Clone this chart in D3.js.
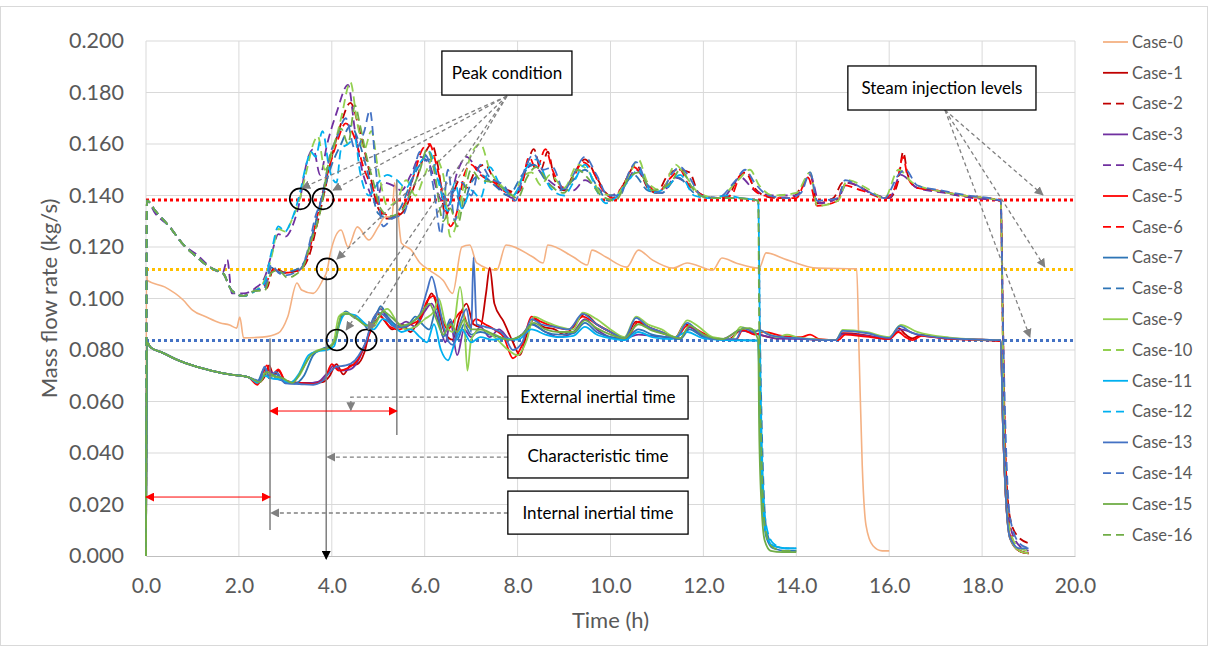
<!DOCTYPE html>
<html>
<head>
<meta charset="utf-8">
<script src="https://d3js.org/d3.v7.min.js"></script>
<style>
  body { margin: 0; background: #fff; }
  text { font-family: Lato, "Open Sans", sans-serif; }
</style>
</head>
<body>
<script>
// ---- data (time in h, mass flow rate in kg/s) ----
const xTicks = [0, 2, 4, 6, 8, 10, 12, 14, 16, 18, 20];
const yTicks = [0, 0.02, 0.04, 0.06, 0.08, 0.1, 0.12, 0.14, 0.16, 0.18, 0.2];

// the three steam injection levels
const levels = [0.1383, 0.1113, 0.0837];

// both groups start on the same curve before they split
const highStart = [[0,0],[0.02,0.138],[0.2,0.134],[0.5,0.128],[0.8,0.121],[1.1,0.116],[1.3,0.113],[1.5,0.111],[1.65,0.110],[1.85,0.103],[2.1,0.101],[2.35,0.103]];
const lowStart = [[0,0],[0.02,0.083],[0.1,0.081],[0.35,0.079],[0.7,0.076],[1.0,0.074],[1.4,0.072],[1.8,0.0705],[2.2,0.0695]];

const case0 = [[0,0],[0.01,0.111],[0.03,0.107],[0.4,0.1045],[0.8,0.0994],[1.0,0.0955],[1.3,0.0928],[1.6,0.0905],[1.8,0.0897],[1.95,0.0885],[2.02,0.0928],[2.1,0.0847],[2.5,0.085],[2.85,0.0866],[3.05,0.0928],[3.25,0.106],[3.35,0.1033],[3.6,0.102],[3.8,0.107],[3.9,0.111],[3.97,0.1177],[4.2,0.1266],[4.35,0.12],[4.55,0.1278],[4.8,0.1227],[5.0,0.1278],[5.15,0.1317],[5.3,0.1317],[5.35,0.1449],[5.5,0.1215],[5.7,0.119],[5.9,0.1138],[6.1,0.111],[6.4,0.107],[6.6,0.102],[6.8,0.12],[6.97,0.1208],[7.12,0.1138],[7.55,0.111],[7.75,0.1208],[8.33,0.1161],[8.55,0.1138],[8.65,0.1208],[9.2,0.1161],[9.5,0.113],[9.6,0.1188],[9.9,0.1161],[10.35,0.1122],[10.6,0.1188],[10.9,0.115],[11.35,0.1118],[11.65,0.1138],[12.2,0.111],[12.4,0.1157],[12.7,0.1138],[13.2,0.1118],[13.35,0.1177],[13.8,0.115],[14.45,0.1118],[15.3,0.1115],[15.35,0.08],[15.42,0.035],[15.5,0.012],[15.65,0.004],[15.85,0.002],[16.0,0.002]];

const case1 = lowStart.concat([[2.4,0.0672],[2.55,0.0695],[2.65,0.074],[2.75,0.070],[2.85,0.072],[3.0,0.068],[3.3,0.0672],[3.6,0.0672],[3.8,0.0675],[3.95,0.0698],[4.1,0.0745],[4.25,0.0705],[4.4,0.074],[4.55,0.0745],[4.7,0.079],[4.85,0.090],[5.0,0.094],[5.15,0.091],[5.3,0.088],[5.5,0.090],[5.7,0.087],[5.85,0.091],[6.0,0.096],[6.15,0.102],[6.3,0.095],[6.45,0.086],[6.6,0.084],[6.75,0.093],[6.9,0.098],[7.05,0.090],[7.2,0.089],[7.32,0.102],[7.4,0.112],[7.5,0.098],[7.7,0.091],[7.9,0.083],[8.05,0.078],[8.2,0.086],[8.35,0.092],[8.55,0.089],[8.8,0.088],[9.0,0.086],[9.2,0.089],[9.45,0.094],[9.7,0.090],[10.0,0.087],[10.3,0.084],[10.55,0.091],[10.8,0.089],[11.1,0.087],[11.4,0.085],[11.6,0.090],[11.9,0.087],[12.2,0.0845],[12.55,0.0842],[12.8,0.0875],[13.0,0.087],[13.3,0.0855],[13.6,0.0845],[13.9,0.0848],[14.1,0.0845],[14.4,0.084],[14.85,0.0838],[15.0,0.0865],[15.4,0.086],[15.7,0.085],[16.0,0.0842],[16.2,0.0885],[16.35,0.086],[16.5,0.0845],[16.7,0.086],[17.2,0.0845],[17.8,0.084],[18.4,0.0835],[18.45,0.05],[18.52,0.02],[18.6,0.008],[18.8,0.002],[19.0,0.001]]);

const case2 = highStart.concat([[2.6,0.104],[2.75,0.112],[3.0,0.110],[3.3,0.111],[3.5,0.116],[3.7,0.130],[3.85,0.142],[4.0,0.155],[4.2,0.168],[4.4,0.176],[4.6,0.165],[4.8,0.150],[5.0,0.135],[5.2,0.131],[5.5,0.133],[5.8,0.145],[6.0,0.156],[6.15,0.160],[6.3,0.150],[6.45,0.132],[6.6,0.140],[6.75,0.146],[6.9,0.143],[7.1,0.150],[7.3,0.152],[7.5,0.146],[7.8,0.142],[8.0,0.141],[8.2,0.152],[8.35,0.158],[8.5,0.150],[8.65,0.157],[8.8,0.146],[9.0,0.142],[9.2,0.148],[9.45,0.154],[9.7,0.147],[9.9,0.141],[10.1,0.139],[10.3,0.145],[10.55,0.152],[10.8,0.143],[11.0,0.141],[11.2,0.147],[11.45,0.150],[11.7,0.149],[11.9,0.141],[12.2,0.139],[12.5,0.139],[12.75,0.147],[12.9,0.149],[13.1,0.143],[13.3,0.140],[13.6,0.139],[13.9,0.139],[14.1,0.143],[14.3,0.148],[14.45,0.137],[14.8,0.139],[15.0,0.145],[15.3,0.144],[15.6,0.141],[16.0,0.139],[16.2,0.146],[16.3,0.157],[16.4,0.148],[16.6,0.143],[17.0,0.142],[17.5,0.140],[18.0,0.139],[18.4,0.138],[18.45,0.09],[18.5,0.04],[18.6,0.015],[18.75,0.008],[19.0,0.005]]);

const case3 = lowStart.concat([[2.4,0.0678],[2.5,0.070],[2.65,0.0722],[2.8,0.069],[3.1,0.0675],[3.4,0.067],[3.7,0.0676],[3.9,0.071],[4.05,0.074],[4.2,0.072],[4.4,0.0725],[4.6,0.077],[4.75,0.0838],[4.9,0.092],[5.05,0.096],[5.2,0.092],[5.4,0.089],[5.6,0.091],[5.8,0.089],[6.0,0.095],[6.15,0.098],[6.3,0.091],[6.45,0.083],[6.55,0.091],[6.7,0.078],[6.85,0.088],[7.0,0.085],[7.2,0.089],[7.4,0.085],[7.6,0.088],[7.85,0.084],[8.1,0.086],[8.3,0.090],[8.6,0.087],[8.9,0.085],[9.2,0.087],[9.45,0.092],[9.7,0.088],[10.0,0.085],[10.3,0.0845],[10.6,0.086],[10.9,0.0855],[11.2,0.085],[11.5,0.0845],[11.7,0.0888],[12.0,0.0855],[12.4,0.0842],[12.8,0.0875],[13.2,0.086],[13.6,0.0845],[14.2,0.0842],[14.85,0.0838],[15.0,0.0862],[15.5,0.0855],[16.0,0.0843],[16.25,0.088],[16.6,0.086],[17.3,0.0845],[18.4,0.0837],[18.45,0.05],[18.52,0.02],[18.62,0.006],[18.8,0.002],[19.0,0.001]]);

const case4 = [[0,0],[0.02,0.138],[0.2,0.133],[0.5,0.128],[0.8,0.121],[1.1,0.117],[1.4,0.112],[1.65,0.110],[1.75,0.115],[1.85,0.102],[2.1,0.102],[2.35,0.104],[2.55,0.108],[2.7,0.117],[2.85,0.125],[3.0,0.124],[3.15,0.128],[3.3,0.137],[3.45,0.152],[3.6,0.158],[3.75,0.148],[3.9,0.160],[4.1,0.172],[4.35,0.183],[4.5,0.165],[4.65,0.150],[4.8,0.142],[4.95,0.137],[5.1,0.145],[5.3,0.144],[5.5,0.142],[5.7,0.148],[5.9,0.155],[6.1,0.152],[6.3,0.140],[6.5,0.136],[6.7,0.149],[6.9,0.155],[7.1,0.151],[7.3,0.147],[7.6,0.143],[7.9,0.139],[8.1,0.146],[8.3,0.152],[8.6,0.147],[8.9,0.143],[9.2,0.142],[9.45,0.146],[9.7,0.143],[10.0,0.140],[10.3,0.144],[10.55,0.150],[10.8,0.144],[11.1,0.141],[11.4,0.147],[11.7,0.144],[12.0,0.140],[12.4,0.139],[12.8,0.147],[13.1,0.142],[13.5,0.140],[14.0,0.140],[14.3,0.148],[14.5,0.137],[14.9,0.139],[15.1,0.145],[15.6,0.141],[16.0,0.139],[16.25,0.148],[16.6,0.143],[17.2,0.141],[17.8,0.139],[18.4,0.138],[18.45,0.085],[18.5,0.035],[18.6,0.012],[18.8,0.004],[19.0,0.002]];

const case5 = lowStart.concat([[2.4,0.0665],[2.5,0.070],[2.6,0.074],[2.7,0.070],[2.85,0.0725],[3.0,0.068],[3.3,0.0672],[3.6,0.0668],[3.85,0.069],[4.0,0.0745],[4.15,0.072],[4.35,0.073],[4.55,0.076],[4.75,0.0835],[4.9,0.090],[5.05,0.093],[5.25,0.089],[5.45,0.088],[5.7,0.090],[5.9,0.092],[6.05,0.099],[6.2,0.101],[6.35,0.093],[6.5,0.088],[6.65,0.092],[6.8,0.095],[6.95,0.089],[7.1,0.092],[7.3,0.090],[7.5,0.088],[7.7,0.085],[7.9,0.0768],[8.1,0.082],[8.3,0.093],[8.5,0.091],[8.8,0.089],[9.1,0.088],[9.4,0.093],[9.7,0.090],[10.0,0.087],[10.35,0.0845],[10.6,0.091],[10.9,0.088],[11.2,0.086],[11.4,0.0845],[11.65,0.0895],[12.0,0.0865],[12.3,0.0842],[12.7,0.084],[12.85,0.0878],[13.1,0.086],[13.3,0.087],[13.7,0.0855],[14.1,0.085],[14.3,0.086],[14.5,0.0842],[14.9,0.0838],[15.05,0.086],[15.5,0.0852],[16.0,0.0843],[16.2,0.087],[16.35,0.085],[16.5,0.0838],[16.7,0.0855],[17.3,0.0843],[18.0,0.084],[18.4,0.0835],[18.45,0.05],[18.52,0.02],[18.6,0.007],[18.8,0.002],[19.0,0.001]]);

const case6 = highStart.concat([[2.55,0.105],[2.75,0.111],[3.0,0.110],[3.3,0.111],[3.5,0.118],[3.7,0.133],[3.9,0.148],[4.1,0.160],[4.3,0.168],[4.5,0.162],[4.7,0.150],[4.9,0.142],[5.1,0.133],[5.35,0.132],[5.6,0.138],[5.8,0.150],[5.95,0.158],[6.1,0.160],[6.25,0.152],[6.4,0.140],[6.55,0.128],[6.7,0.134],[6.85,0.148],[7.0,0.152],[7.2,0.148],[7.5,0.145],[7.8,0.141],[8.05,0.142],[8.25,0.155],[8.4,0.150],[8.6,0.158],[8.75,0.150],[9.0,0.143],[9.2,0.147],[9.4,0.153],[9.6,0.150],[9.8,0.143],[10.05,0.139],[10.3,0.145],[10.5,0.151],[10.75,0.146],[11.0,0.141],[11.3,0.147],[11.5,0.150],[11.65,0.145],[11.9,0.141],[12.2,0.139],[12.6,0.140],[12.8,0.148],[12.95,0.149],[13.1,0.142],[13.3,0.140],[13.7,0.139],[14.0,0.139],[14.25,0.147],[14.45,0.136],[14.9,0.138],[15.0,0.144],[15.4,0.142],[15.9,0.139],[16.15,0.144],[16.3,0.155],[16.4,0.147],[16.6,0.143],[17.0,0.142],[17.6,0.140],[18.4,0.138],[18.45,0.08],[18.52,0.03],[18.6,0.01],[18.8,0.002],[19.0,0.001]]);

const case7 = lowStart.concat([[2.4,0.0678],[2.55,0.073],[2.65,0.069],[2.8,0.0705],[3.0,0.0672],[3.2,0.067],[3.4,0.070],[3.6,0.078],[3.8,0.0805],[3.95,0.0815],[4.05,0.083],[4.15,0.090],[4.3,0.095],[4.45,0.093],[4.65,0.091],[4.8,0.088],[4.95,0.093],[5.05,0.097],[5.2,0.093],[5.4,0.0895],[5.6,0.089],[5.8,0.093],[5.95,0.090],[6.1,0.088],[6.25,0.096],[6.4,0.085],[6.55,0.092],[6.7,0.084],[6.85,0.090],[7.0,0.086],[7.2,0.087],[7.4,0.086],[7.6,0.085],[7.85,0.084],[8.1,0.086],[8.3,0.090],[8.6,0.087],[8.9,0.086],[9.2,0.0865],[9.45,0.0905],[9.7,0.087],[10.0,0.085],[10.3,0.084],[10.6,0.088],[10.9,0.086],[11.2,0.085],[11.5,0.0842],[11.7,0.088],[12.0,0.085],[12.4,0.084],[12.75,0.0839],[13.18,0.0837],[13.22,0.05],[13.28,0.02],[13.36,0.007],[13.5,0.003],[13.8,0.002],[14.0,0.002]]);

const case8 = highStart.concat([[2.55,0.104],[2.7,0.112],[2.9,0.110],[3.2,0.111],[3.4,0.114],[3.6,0.126],[3.8,0.140],[4.0,0.152],[4.2,0.160],[4.4,0.167],[4.6,0.160],[4.8,0.147],[5.0,0.133],[5.25,0.131],[5.5,0.136],[5.7,0.145],[5.9,0.152],[6.1,0.154],[6.3,0.146],[6.5,0.138],[6.65,0.142],[6.8,0.135],[7.0,0.145],[7.2,0.148],[7.5,0.144],[7.8,0.140],[8.1,0.148],[8.35,0.152],[8.6,0.146],[8.9,0.142],[9.2,0.146],[9.45,0.150],[9.7,0.144],[9.95,0.138],[10.2,0.141],[10.5,0.148],[10.8,0.142],[11.1,0.141],[11.45,0.147],[11.8,0.141],[12.2,0.139],[12.7,0.139],[13.18,0.138],[13.22,0.085],[13.28,0.035],[13.36,0.01],[13.5,0.004],[13.8,0.003],[14.0,0.003]]);

const case9 = lowStart.concat([[2.45,0.0678],[2.55,0.071],[2.7,0.070],[2.9,0.069],[3.1,0.0675],[3.3,0.070],[3.5,0.077],[3.7,0.080],[3.9,0.0805],[4.05,0.084],[4.15,0.093],[4.3,0.0945],[4.5,0.0925],[4.7,0.090],[4.9,0.089],[5.05,0.094],[5.2,0.096],[5.4,0.091],[5.6,0.088],[5.8,0.089],[6.0,0.092],[6.2,0.095],[6.3,0.100],[6.45,0.090],[6.6,0.087],[6.76,0.1045],[6.85,0.092],[6.92,0.072],[7.0,0.084],[7.2,0.088],[7.5,0.085],[7.8,0.080],[8.0,0.078],[8.2,0.084],[8.35,0.093],[8.6,0.091],[8.9,0.089],[9.2,0.088],[9.4,0.0945],[9.7,0.092],[10.0,0.088],[10.3,0.085],[10.55,0.093],[10.8,0.090],[11.1,0.088],[11.4,0.085],[11.65,0.0915],[11.9,0.089],[12.2,0.085],[12.6,0.0842],[12.8,0.089],[13.0,0.088],[13.3,0.087],[13.6,0.085],[13.8,0.086],[14.0,0.085],[14.4,0.0842],[14.85,0.0838],[15.0,0.0878],[15.5,0.087],[16.0,0.085],[16.25,0.0897],[16.6,0.087],[17.3,0.0848],[18.0,0.084],[18.4,0.0838],[18.45,0.05],[18.52,0.02],[18.6,0.007],[18.8,0.002],[19.0,0.001]]);

const case10 = highStart.concat([[2.55,0.107],[2.7,0.116],[2.85,0.127],[3.0,0.126],[3.15,0.131],[3.3,0.138],[3.45,0.149],[3.6,0.160],[3.7,0.163],[3.85,0.150],[4.0,0.156],[4.2,0.170],[4.4,0.184],[4.55,0.168],[4.7,0.158],[4.85,0.165],[5.0,0.150],[5.2,0.136],[5.4,0.138],[5.6,0.146],[5.8,0.140],[6.0,0.148],[6.2,0.155],[6.4,0.148],[6.55,0.124],[6.7,0.130],[6.85,0.145],[7.0,0.156],[7.2,0.160],[7.4,0.150],[7.7,0.143],[7.9,0.140],[8.1,0.147],[8.3,0.149],[8.5,0.144],[8.7,0.148],[9.0,0.143],[9.3,0.152],[9.5,0.150],[9.8,0.141],[10.1,0.140],[10.4,0.148],[10.6,0.154],[10.8,0.145],[11.1,0.142],[11.4,0.152],[11.6,0.148],[11.9,0.141],[12.3,0.139],[12.75,0.146],[13.0,0.150],[13.2,0.144],[13.5,0.140],[14.0,0.141],[14.3,0.149],[14.45,0.136],[14.9,0.138],[15.1,0.146],[15.5,0.143],[15.9,0.139],[16.2,0.150],[16.5,0.145],[17.0,0.142],[17.6,0.140],[18.4,0.138],[18.45,0.08],[18.5,0.03],[18.6,0.01],[18.8,0.003],[19.0,0.002]]);

const case11 = lowStart.concat([[2.4,0.0672],[2.55,0.070],[2.7,0.069],[2.9,0.0685],[3.1,0.0672],[3.3,0.071],[3.5,0.078],[3.7,0.0795],[3.9,0.080],[4.05,0.0815],[4.15,0.089],[4.3,0.094],[4.5,0.0935],[4.7,0.0905],[4.9,0.088],[5.1,0.092],[5.3,0.090],[5.5,0.087],[5.7,0.088],[5.9,0.085],[6.05,0.083],[6.2,0.090],[6.35,0.080],[6.5,0.076],[6.65,0.083],[6.8,0.088],[7.0,0.083],[7.2,0.085],[7.45,0.084],[7.7,0.0845],[8.0,0.084],[8.3,0.088],[8.6,0.086],[8.9,0.085],[9.2,0.0855],[9.45,0.089],[9.7,0.086],[10.0,0.0845],[10.3,0.0838],[10.6,0.087],[10.9,0.085],[11.3,0.0842],[11.65,0.087],[12.0,0.0845],[12.5,0.0838],[13.18,0.0836],[13.22,0.05],[13.28,0.02],[13.36,0.008],[13.5,0.004],[13.8,0.003],[14.0,0.003]]);

const case12 = highStart.concat([[2.55,0.106],[2.7,0.118],[2.85,0.128],[3.0,0.126],[3.1,0.129],[3.3,0.140],[3.45,0.152],[3.55,0.157],[3.65,0.155],[3.8,0.165],[3.95,0.150],[4.1,0.145],[4.2,0.158],[4.35,0.160],[4.5,0.162],[4.6,0.150],[4.8,0.140],[5.0,0.145],[5.2,0.148],[5.4,0.146],[5.6,0.143],[5.8,0.150],[6.0,0.155],[6.1,0.157],[6.3,0.145],[6.5,0.134],[6.65,0.145],[6.8,0.135],[7.0,0.142],[7.2,0.139],[7.4,0.151],[7.6,0.145],[7.9,0.140],[8.2,0.151],[8.4,0.154],[8.7,0.143],[9.0,0.140],[9.2,0.145],[9.45,0.152],[9.7,0.142],[9.9,0.137],[10.1,0.139],[10.4,0.146],[10.6,0.150],[10.9,0.141],[11.2,0.143],[11.5,0.148],[11.8,0.140],[12.1,0.139],[12.5,0.140],[12.8,0.139],[13.18,0.138],[13.22,0.08],[13.27,0.035],[13.35,0.012],[13.5,0.005],[13.75,0.003],[14.0,0.003]]);

const case13 = lowStart.concat([[2.45,0.068],[2.55,0.0735],[2.65,0.070],[2.8,0.0715],[3.0,0.067],[3.3,0.0668],[3.6,0.0665],[3.8,0.068],[3.95,0.0712],[4.1,0.0735],[4.3,0.074],[4.5,0.076],[4.65,0.080],[4.75,0.084],[4.85,0.0905],[5.0,0.0945],[5.15,0.093],[5.3,0.0895],[5.5,0.0888],[5.7,0.0905],[5.9,0.094],[6.05,0.103],[6.15,0.1085],[6.3,0.098],[6.45,0.086],[6.6,0.082],[6.75,0.090],[6.9,0.096],[7.0,0.087],[7.05,0.116],[7.12,0.090],[7.3,0.089],[7.5,0.088],[7.7,0.086],[7.9,0.080],[8.1,0.083],[8.3,0.092],[8.5,0.090],[8.8,0.089],[9.1,0.088],[9.4,0.094],[9.7,0.090],[10.0,0.087],[10.3,0.0845],[10.55,0.0925],[10.8,0.089],[11.1,0.087],[11.4,0.0845],[11.65,0.0905],[11.9,0.087],[12.2,0.0842],[12.7,0.0842],[12.85,0.0885],[13.1,0.087],[13.2,0.0878],[13.4,0.086],[13.7,0.085],[14.1,0.0845],[14.4,0.084],[14.85,0.0838],[15.0,0.0874],[15.5,0.0866],[16.0,0.0847],[16.23,0.0893],[16.5,0.0866],[17.3,0.0845],[18.0,0.084],[18.4,0.0838],[18.45,0.05],[18.52,0.02],[18.6,0.007],[18.8,0.003],[19.0,0.003]]);

const case14 = highStart.concat([[2.55,0.104],[2.7,0.113],[2.85,0.110],[3.0,0.109],[3.2,0.110],[3.35,0.112],[3.5,0.120],[3.65,0.132],[3.75,0.137],[3.85,0.145],[3.95,0.155],[4.1,0.162],[4.3,0.170],[4.5,0.158],[4.7,0.165],[4.82,0.173],[4.95,0.150],[5.1,0.128],[5.3,0.131],[5.55,0.133],[5.75,0.148],[5.9,0.157],[6.05,0.155],[6.2,0.142],[6.35,0.125],[6.5,0.150],[6.65,0.130],[6.8,0.145],[7.0,0.140],[7.2,0.152],[7.4,0.147],[7.7,0.144],[7.95,0.138],[8.15,0.150],[8.35,0.156],[8.55,0.150],[8.75,0.151],[9.0,0.142],[9.2,0.148],[9.45,0.155],[9.7,0.148],[9.95,0.140],[10.2,0.140],[10.4,0.149],[10.55,0.153],[10.8,0.144],[11.1,0.141],[11.3,0.148],[11.5,0.151],[11.7,0.147],[11.95,0.140],[12.3,0.139],[12.7,0.146],[12.9,0.150],[13.1,0.145],[13.4,0.140],[13.8,0.139],[14.1,0.141],[14.3,0.149],[14.45,0.138],[14.9,0.139],[15.05,0.146],[15.4,0.143],[15.9,0.139],[16.2,0.148],[16.35,0.150],[16.6,0.144],[17.1,0.142],[17.7,0.140],[18.4,0.138],[18.45,0.09],[18.52,0.04],[18.6,0.015],[18.8,0.005],[19.0,0.003]]);

const case15 = lowStart.concat([[2.45,0.0675],[2.6,0.0715],[2.75,0.070],[2.95,0.069],[3.15,0.0672],[3.35,0.072],[3.55,0.078],[3.75,0.080],[3.95,0.081],[4.1,0.085],[4.2,0.0935],[4.35,0.094],[4.55,0.092],[4.75,0.0895],[4.95,0.091],[5.1,0.095],[5.3,0.0925],[5.5,0.0895],[5.7,0.0905],[5.9,0.0935],[6.1,0.098],[6.25,0.092],[6.4,0.086],[6.55,0.090],[6.7,0.087],[6.85,0.092],[7.0,0.088],[7.2,0.088],[7.5,0.086],[7.8,0.084],[8.1,0.086],[8.35,0.0905],[8.6,0.088],[8.9,0.087],[9.2,0.087],[9.45,0.0915],[9.7,0.0885],[10.0,0.086],[10.3,0.0845],[10.6,0.090],[10.9,0.0875],[11.2,0.086],[11.5,0.0845],[11.7,0.0895],[12.0,0.086],[12.4,0.0842],[12.8,0.088],[13.0,0.0885],[13.18,0.084],[13.2,0.05],[13.25,0.02],[13.32,0.006],[13.45,0.002],[13.7,0.0015],[14.0,0.0015]]);

const case16 = highStart.concat([[2.55,0.103],[2.7,0.110],[2.85,0.111],[3.05,0.108],[3.2,0.109],[3.4,0.113],[3.55,0.122],[3.7,0.130],[3.8,0.138],[3.9,0.150],[4.05,0.160],[4.2,0.166],[4.35,0.160],[4.5,0.175],[4.6,0.168],[4.75,0.155],[4.9,0.145],[5.05,0.135],[5.25,0.132],[5.5,0.134],[5.7,0.141],[5.9,0.150],[6.05,0.158],[6.2,0.150],[6.4,0.130],[6.55,0.135],[6.7,0.128],[6.85,0.140],[7.0,0.150],[7.2,0.146],[7.5,0.145],[7.8,0.141],[8.0,0.139],[8.2,0.147],[8.4,0.151],[8.7,0.144],[9.0,0.141],[9.3,0.150],[9.5,0.147],[9.8,0.140],[10.1,0.138],[10.4,0.147],[10.6,0.149],[10.9,0.142],[11.3,0.145],[11.5,0.150],[11.8,0.142],[12.1,0.139],[12.6,0.139],[13.18,0.138],[13.2,0.09],[13.25,0.04],[13.32,0.012],[13.45,0.004],[13.7,0.002],[14.0,0.002]]);

const caseNames = ["Case-0","Case-1","Case-2","Case-3","Case-4","Case-5","Case-6","Case-7","Case-8","Case-9","Case-10","Case-11","Case-12","Case-13","Case-14","Case-15","Case-16"];
const caseValues = [case0, case1, case2, case3, case4, case5, case6, case7, case8, case9, case10, case11, case12, case13, case14, case15, case16];
const caseColors = ["#F4B183","#C00000","#C00000","#7030A0","#7030A0","#FF0000","#FF0000","#2E75B6","#2E75B6","#92D050","#92D050","#00B0F0","#00B0F0","#4472C4","#4472C4","#70AD47","#70AD47"];
const caseDashed = [false,false,true,false,true,false,true,false,true,false,true,false,true,false,true,false,true];

// annotation positions in data units
const circles = [[3.32,0.1387],[3.81,0.1387],[3.90,0.1115],[4.11,0.0839],[4.74,0.0839]];
const peakFrom = [7.77, 0.1786];
const peakTargets = [[3.36,0.1429],[4.03,0.1421],[4.11,0.1153],[4.31,0.0878],[4.78,0.0878]];
const steamFrom = [17.2, 0.1732];
const steamTargets = [[19.31,0.1402],[19.35,0.1122],[19.03,0.0850]];
const vLines = [[2.67,0.0845,0.0101],[5.40,0.1460,0.0470]];
const charLine = [3.88, 0.1085, 0.0];
const redSpans = [[0,2.67,0.0229],[2.67,5.40,0.0563]];

// ---- chart ----
const canvasW = 1208, canvasH = 646;
const x = d3.scaleLinear().domain([0, 20]).range([146, 1075]);
const y = d3.scaleLinear().domain([0, 0.2]).range([556, 41]);

const svg = d3.select("body").append("svg")
  .attr("width", canvasW)
  .attr("height", canvasH);

const defs = svg.append("defs");
function marker(id, color, size) {
  defs.append("marker")
    .attr("id", id)
    .attr("viewBox", "0 0 10 10")
    .attr("refX", 9).attr("refY", 5)
    .attr("markerWidth", size).attr("markerHeight", size)
    .attr("markerUnits", "userSpaceOnUse")
    .attr("orient", "auto-start-reverse")
    .append("path")
    .attr("d", "M0,0 L10,5 L0,10 z")
    .attr("fill", color);
}
marker("arrGray", "#808080", 9);
marker("arrRed", "#FF0000", 9);
marker("arrBlack", "#000", 9);

svg.append("rect")
  .attr("x", 0.5).attr("y", 6.5)
  .attr("width", canvasW - 1).attr("height", canvasH - 7)
  .attr("fill", "#fff").attr("stroke", "#d9d9d9");

// grid
svg.append("g").selectAll("line").data(yTicks.slice(1)).join("line")
  .attr("x1", x(0)).attr("x2", x(20))
  .attr("y1", d => y(d)).attr("y2", d => y(d))
  .attr("stroke", "#d9d9d9").attr("stroke-width", 1);
svg.append("g").selectAll("line").data(xTicks).join("line")
  .attr("x1", d => x(d)).attr("x2", d => x(d))
  .attr("y1", y(0)).attr("y2", y(0.2))
  .attr("stroke", "#d9d9d9").attr("stroke-width", 1);

// axes
const xAxis = svg.append("g")
  .attr("transform", `translate(0,${y(0)})`)
  .call(d3.axisBottom(x).tickValues(xTicks).tickFormat(d3.format(".1f")).tickSize(0).tickPadding(22));
xAxis.select(".domain").attr("stroke", "#bfbfbf").attr("stroke-width", 1.2);
xAxis.selectAll("text").attr("font-size", 21).attr("fill", "#595959")
  .style("font-family", "Lato, 'Open Sans', sans-serif");

const yAxis = svg.append("g")
  .attr("transform", `translate(${x(0)},0)`)
  .call(d3.axisLeft(y).tickValues(yTicks).tickFormat(d3.format(".3f")).tickSize(0).tickPadding(22));
yAxis.select(".domain").remove();
yAxis.selectAll("text").attr("font-size", 21.5).attr("fill", "#595959")
  .style("font-family", "Lato, 'Open Sans', sans-serif");

svg.append("text")
  .attr("x", (x(0) + x(20)) / 2).attr("y", 628)
  .attr("text-anchor", "middle")
  .attr("font-size", 22).attr("fill", "#595959")
  .text("Time (h)");

svg.append("text")
  .attr("transform", `translate(57,${(y(0) + y(0.2)) / 2}) rotate(-90)`)
  .attr("text-anchor", "middle")
  .attr("font-size", 22).attr("fill", "#595959")
  .text("Mass flow rate (kg/s)");

// steam injection levels
const levelColors = ["#FF0000", "#FFC000", "#4472C4"];
svg.append("g").selectAll("line").data(levels).join("line")
  .attr("x1", x(0)).attr("x2", x(20))
  .attr("y1", d => y(d)).attr("y2", d => y(d))
  .attr("stroke", (d, i) => levelColors[i])
  .attr("stroke-width", 3)
  .attr("stroke-dasharray", "3,3");

// series
const line = d3.line()
  .x(d => x(d[0]))
  .y(d => y(d[1]))
  .curve(d3.curveMonotoneX);

svg.append("g").selectAll("path").data(caseValues).join("path")
  .attr("d", line)
  .attr("fill", "none")
  .attr("stroke", (d, i) => caseColors[i])
  .attr("stroke-width", (d, i) => i === 0 ? 1.6 : 1.8)
  .attr("stroke-dasharray", (d, i) => caseDashed[i] ? "9,5" : null);

// annotations
const ann = svg.append("g");

vLines.forEach(v => {
  ann.append("line")
    .attr("x1", x(v[0])).attr("x2", x(v[0]))
    .attr("y1", y(v[1])).attr("y2", y(v[2]))
    .attr("stroke", "#7f7f7f").attr("stroke-width", 1.5);
});
ann.append("line")
  .attr("x1", x(charLine[0])).attr("x2", x(charLine[0]))
  .attr("y1", y(charLine[1])).attr("y2", y(charLine[2]) + 3)
  .attr("stroke", "#7f7f7f").attr("stroke-width", 1.5)
  .attr("marker-end", "url(#arrBlack)");

redSpans.forEach(s => {
  ann.append("line")
    .attr("x1", x(s[0])).attr("x2", x(s[1]))
    .attr("y1", y(s[2])).attr("y2", y(s[2]))
    .attr("stroke", "#FF0000").attr("stroke-width", 1)
    .attr("marker-start", "url(#arrRed)")
    .attr("marker-end", "url(#arrRed)");
});

ann.selectAll("circle").data(circles).join("circle")
  .attr("cx", d => x(d[0])).attr("cy", d => y(d[1]))
  .attr("r", 10.5)
  .attr("fill", "none").attr("stroke", "#000").attr("stroke-width", 1.6);

function dashedArrow(pts) {
  ann.append("path")
    .attr("d", d3.line()(pts.map(p => [x(p[0]), y(p[1])])))
    .attr("fill", "none")
    .attr("stroke", "#808080").attr("stroke-width", 1.3)
    .attr("stroke-dasharray", "4,3")
    .attr("marker-end", "url(#arrGray)");
}
peakTargets.forEach(t => dashedArrow([peakFrom, t]));
steamTargets.forEach(t => dashedArrow([steamFrom, t]));

// callout boxes: [t0, t1, vTop, vBottom, label]
const boxes = [
  [6.37, 9.17, 0.1961, 0.1790, "Peak condition"],
  [15.11, 19.16, 0.1903, 0.1732, "Steam injection levels"],
  [7.79, 11.67, 0.0699, 0.0532, "External inertial time"],
  [7.79, 11.67, 0.0470, 0.0303, "Characteristic time"],
  [7.79, 11.67, 0.0252, 0.0085, "Internal inertial time"]
];

dashedArrow([[7.79, 0.0617], [4.41, 0.0617], [4.41, 0.0566]]);
dashedArrow([[7.79, 0.0384], [3.90, 0.0384]]);
dashedArrow([[7.79, 0.0167], [2.69, 0.0167]]);

boxes.forEach(b => {
  ann.append("rect")
    .attr("x", x(b[0])).attr("y", y(b[2]))
    .attr("width", x(b[1]) - x(b[0])).attr("height", y(b[3]) - y(b[2]))
    .attr("fill", "#fff").attr("stroke", "#000").attr("stroke-width", 1.3);
  ann.append("text")
    .attr("x", (x(b[0]) + x(b[1])) / 2)
    .attr("y", (y(b[2]) + y(b[3])) / 2)
    .attr("dy", "0.35em")
    .attr("text-anchor", "middle")
    .attr("font-size", 17).attr("fill", "#000")
    .text(b[4]);
});

// legend
const legend = svg.append("g").attr("transform", "translate(1103,42)");
const rows = legend.selectAll("g").data(caseNames).join("g")
  .attr("transform", (d, i) => `translate(0,${i * 30.8})`);
rows.append("line")
  .attr("x1", 0).attr("x2", 25)
  .attr("stroke", (d, i) => caseColors[i])
  .attr("stroke-width", 1.8)
  .attr("stroke-dasharray", (d, i) => caseDashed[i] ? "8,5" : null);
rows.append("text")
  .attr("x", 29).attr("dy", "0.35em")
  .attr("font-size", 16.5).attr("fill", "#595959")
  .text(d => d);
</script>
</body>
</html>
